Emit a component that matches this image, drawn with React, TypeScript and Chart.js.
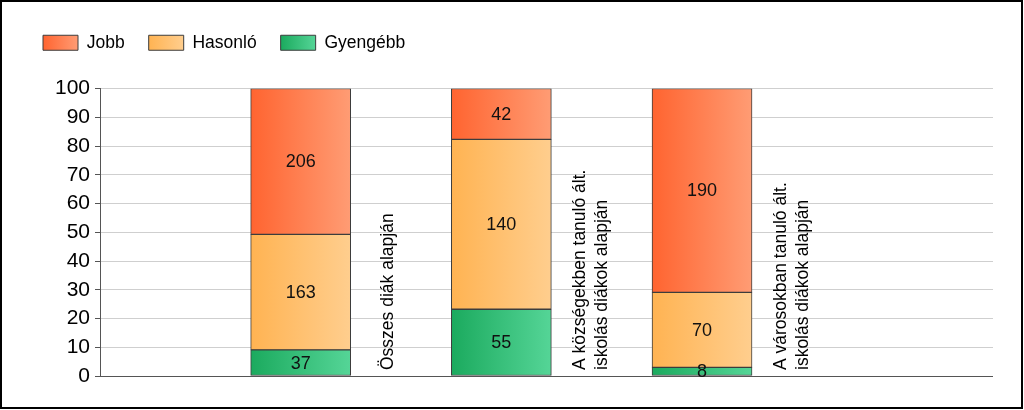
import React, { useEffect, useRef } from "react";
import { Chart, registerables } from "chart.js";

Chart.register(...registerables);

// ---- data ----
const categoryLines: string[][] = [
  ["Összes diák alapján"],
  ["A községekben tanuló ált.", "iskolás diákok alapján"],
  ["A városokban tanuló ált.", "iskolás diákok alapján"],
];
const categoryX = [1, 2, 3];
const seriesNames = ["Gyengébb", "Hasonló", "Jobb"]; // stacking order bottom -> top
const gyengebb = [37, 55, 8];
const hasonlo = [163, 140, 70];
const jobb = [206, 42, 190];
const yTickStep = 10;

// ---- styles ----
const FONT = "'Liberation Sans', Arial, sans-serif";
const BAR_W = 100;
const BOX_W = 35;
const BOX_H = 15;
const gradStops: [string, string][] = [
  ["#1BAA5E", "#55D597"],
  ["#FFB352", "#FFCE8E"],
  ["#FF6430", "#FF9C74"],
];
const EDGE = "#3c3c3c";

const seriesCounts = [gyengebb, hasonlo, jobb];
const totals = categoryX.map((_, i) => seriesCounts.reduce((s, arr) => s + arr[i], 0));

function grad(ctx: CanvasRenderingContext2D, x0: number, x1: number, stops: [string, string]) {
  if (!Number.isFinite(x0) || !Number.isFinite(x1)) return stops[0];
  const g = ctx.createLinearGradient(x0, 0, x1, 0);
  g.addColorStop(0, stops[0]);
  g.addColorStop(1, stops[1]);
  return g;
}

export default function App() {
  const ref = useRef<HTMLCanvasElement | null>(null);

  useEffect(() => {
    const canvas = ref.current;
    if (!canvas) return;

    const valueLabels = {
      id: "valueLabels",
      afterDatasetsDraw(chart: any) {
        const ctx = chart.ctx;
        ctx.save();
        ctx.font = `18px ${FONT}`;
        ctx.fillStyle = "#111";
        ctx.textAlign = "center";
        ctx.textBaseline = "middle";
        chart.data.datasets.forEach((ds: any, di: number) => {
          const meta = chart.getDatasetMeta(di);
          meta.data.forEach((el: any, i: number) => {
            ctx.fillText(String(ds.counts[i]), el.x, (el.y + el.base) / 2 + 1);
          });
        });
        const xs = chart.scales.x;
        const bottom = chart.chartArea.bottom;
        ctx.font = `17.5px ${FONT}`;
        ctx.fillStyle = "#000";
        ctx.textAlign = "left";
        const meta0 = chart.getDatasetMeta(0);
        categoryLines.forEach((lines, i) => {
          const el = meta0.data[i];
          const cx =
            xs.getPixelForValue(categoryX[i]) + el.width / 2 + 37 + (lines.length - 1) * 3;
          ctx.save();
          ctx.translate(cx, bottom - 6);
          ctx.rotate(-Math.PI / 2);
          lines.forEach((ln, li) => {
            ctx.fillText(ln, 0, (li - (lines.length - 1) / 2) * 22);
          });
          ctx.restore();
        });
        ctx.restore();
      },
    };

    const legendGradient = {
      id: "legendGradient",
      beforeDraw(chart: any) {
        const lg = chart.legend;
        if (!lg || !lg.legendItems || !lg.legendHitBoxes) return;
        const ctx = chart.ctx;
        lg.legendItems.forEach((item: any, i: number) => {
          const hb = lg.legendHitBoxes[i];
          if (!hb) return;
          item.fillStyle = grad(ctx, hb.left, hb.left + BOX_W, gradStops[item.datasetIndex]);
        });
      },
    };

    const chart = new Chart(canvas, {
      type: "bar",
      data: {
        datasets: seriesNames.map((name, si) => ({
          label: name,
          counts: seriesCounts[si],
          data: categoryX.map((x, i) => ({ x, y: (seriesCounts[si][i] / totals[i]) * 100 })),
          barThickness: BAR_W,
          borderWidth: 1,
          borderColor: EDGE,
          borderSkipped: false,
          backgroundColor: (c: any) => {
            const xs = c.chart.scales?.x;
            if (!xs || !c.raw) return gradStops[si][0];
            const cx = xs.getPixelForValue(c.raw.x);
            return grad(c.chart.ctx, cx - BAR_W / 2, cx + BAR_W / 2, gradStops[si]);
          },
        })) as any,
      },
      options: {
        responsive: false,
        animation: false,
        events: [],
        layout: { padding: { left: 17, top: 8, right: 28, bottom: 31 } },
        scales: {
          x: {
            type: "linear",
            min: 0,
            max: 4.45,
            offset: false,
            stacked: true,
            display: false,
            grid: { offset: false },
          },
          y: {
            stacked: true,
            min: 0,
            max: 100,
            afterFit: (s: any) => {
              s.width = 81;
            },
            ticks: {
              stepSize: yTickStep,
              color: "#000",
              padding: 5,
              font: { family: FONT, size: 21 },
            },
            grid: {
              color: (c: any) => (c.tick && c.tick.value === 0 ? "#555" : "#cfcfcf"),
              tickColor: "#555",
              tickLength: 5,
              lineWidth: 1,
            },
            border: { color: "#555", width: 1 },
          },
        },
        plugins: {
          tooltip: { enabled: false },
          title: {
            display: true,
            text: "",
            weight: 500,
            padding: 0,
            font: { size: 27, lineHeight: 1 },
          } as any,
          legend: {
            display: true,
            position: "top",
            align: "start",
            reverse: true,
            labels: {
              boxWidth: BOX_W,
              boxHeight: BOX_H,
              padding: 24,
              color: "#000",
              font: { family: FONT, size: 17.5 },
            },
          },
        },
      } as any,
      plugins: [valueLabels, legendGradient],
    });

    return () => chart.destroy();
  }, []);

  return (
    <div
      style={{
        position: "absolute",
        left: 0,
        top: 0,
        width: 1023,
        height: 409,
        boxSizing: "border-box",
        border: "2px solid #000",
        background: "#fff",
      }}
    >
      <canvas ref={ref} width={1019} height={405} style={{ display: "block" }} />
    </div>
  );
}
